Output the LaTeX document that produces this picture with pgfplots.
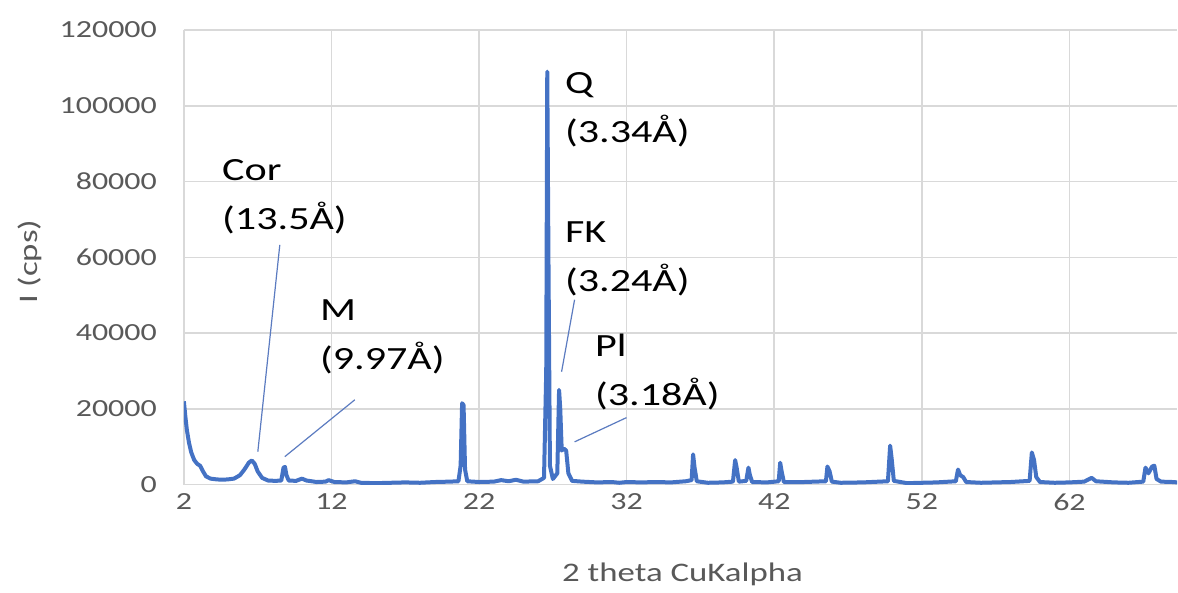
\documentclass[border=0pt]{standalone}
\usepackage{fontspec}
\setmainfont{Carlito}[FakeStretch=1.3]
\usepackage{pgfplots}
\pgfplotsset{compat=1.18}
\definecolor{xrdblue}{HTML}{4472C4}
\definecolor{tickgray}{HTML}{595959}
\definecolor{gridgray}{HTML}{D9D9D9}
\definecolor{leader}{HTML}{5B7BC0}
\begin{document}
\begin{tikzpicture}
\path (0,0) rectangle (589pt,295pt);
\begin{axis}[
  at={(92pt,52.5pt)}, anchor=south west,
  width=497pt, height=227.5pt, scale only axis,
  xmin=2, xmax=69.3, ymin=0, ymax=120000,
  xtick={2,12,22,32,42,52,62},
  xticklabels={2,12,22,32,42,52,62},
  ytick={0,20000,40000,60000,80000,100000,120000},
  yticklabels={0,20000,40000,60000,80000,100000,120000},
  grid=major,
  major grid style={gridgray, line width=0.8pt},
  axis line style={draw=none},
  major tick length=0pt,
  scaled y ticks=false,
  ticklabel style={font=\fontsize{12.3}{14}\selectfont, text=tickgray},
  yticklabel style={anchor=east, xshift=-10pt},
  xticklabel style={anchor=north, yshift=-1pt},
  xlabel={2 theta CuKalpha},
  ylabel={I (cps)},
  label style={font=\fontsize{13.4}{15}\selectfont, text=tickgray},
  xlabel style={at={(axis description cs:0.502,-0.198)}, anchor=center},
  ylabel style={at={(axis description cs:-0.155,0.49)}, anchor=center},
  clip=true,
]
\addplot[xrdblue, line width=2pt, line join=round] coordinates {
(2,22000) (2.1,18000) (2.2,14500) (2.35,11000) (2.5,8500) (2.7,6500) (2.9,5500) (3.1,5000) (3.3,3500) (3.5,2200) (3.8,1600) (4.2,1400) (4.6,1300) (5.0,1400) (5.4,1600) (5.8,2500) (6.1,4000) (6.4,5800) (6.6,6400) (6.8,5500) (7.0,3500) (7.3,1800) (7.7,1100) (8.2,1000) (8.6,1100) (8.75,4500) (8.85,4700) (8.95,2500) (9.1,1100) (9.6,1000) (10.0,1600) (10.3,1100) (11,700) (11.6,800) (11.8,1200) (12.2,700) (13,600) (13.6,900) (14,500) (15,400) (16,500) (17,600) (18,500) (19,700) (20,800) (20.6,900) (20.75,5000) (20.85,21500) (20.95,21000) (21.05,4000) (21.2,900) (22,700) (23,800) (23.5,1200) (24,900) (24.5,1300) (25,800) (26,900) (26.4,1800) (26.55,30000) (26.62,109000) (26.7,60000) (26.8,5000) (27,1500) (27.3,3000) (27.42,25000) (27.5,20000) (27.6,9000) (27.75,9500) (27.9,9000) (28.05,3000) (28.3,1000) (29,800) (30,600) (31,700) (31.5,500) (32,700) (33,600) (34,700) (35,600) (36,900) (36.4,1200) (36.5,8000) (36.6,4500) (36.75,900) (37.5,500) (38.5,600) (39.2,800) (39.35,6500) (39.45,4500) (39.6,800) (40.1,1000) (40.25,4500) (40.35,2500) (40.5,700) (41.5,600) (42.3,900) (42.4,5800) (42.5,3500) (42.65,700) (44,700) (45.5,900) (45.6,4800) (45.75,3500) (45.9,800) (46.5,500) (48,600) (49.7,900) (49.85,10300) (49.95,7000) (50.1,1000) (51,400) (52,500) (53,600) (54.3,900) (54.45,4000) (54.6,2500) (54.8,2000) (55,700) (56,500) (57,600) (58,700) (59.3,1000) (59.45,8500) (59.6,6500) (59.75,2000) (60,700) (61,500) (62,600) (63,800) (63.5,1800) (63.8,900) (65,600) (66,500) (67,800) (67.15,4500) (67.35,3000) (67.6,4800) (67.75,5000) (67.9,1500) (68.2,800) (69,700) (69.3,600)
};
\draw[leader, line width=0.6pt] (axis cs:8.5,63300) -- (axis cs:7.01,8700);
\draw[leader, line width=0.6pt] (axis cs:13.58,22400) -- (axis cs:8.84,7400);
\draw[leader, line width=0.6pt] (axis cs:28.47,48800) -- (axis cs:27.59,29800);
\draw[leader, line width=0.6pt] (axis cs:31.99,17700) -- (axis cs:28.47,11300);
\begin{scope}[every node/.style={font=\fontsize{16.2}{24.5}\selectfont, align=left, anchor=west, inner sep=0pt, text=black}]
\node at (axis cs:4.57,76000) {Cor\\(13.5Å)};
\node at (axis cs:11.2,39000) {M\\(9.97Å)};
\node at (axis cs:27.8,98900) {Q\\(3.34Å)};
\node at (axis cs:27.8,59600) {FK\\(3.24Å)};
\node at (axis cs:29.83,29800) {Pl\\(3.18Å)};
\end{scope}
\end{axis}
\end{tikzpicture}
\end{document}
